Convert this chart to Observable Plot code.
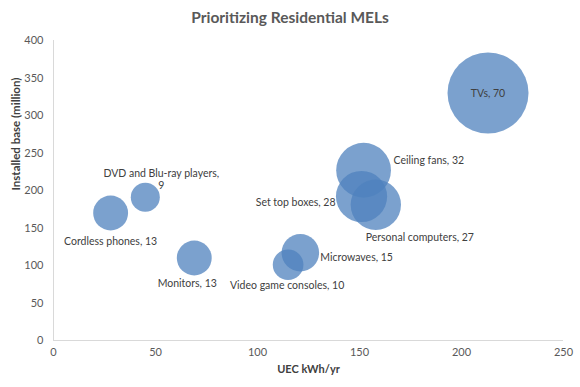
<!DOCTYPE html>
<html>
<head>
<meta charset="utf-8">
<script src="https://cdn.jsdelivr.net/npm/d3@7"></script>
<script src="https://cdn.jsdelivr.net/npm/@observablehq/plot@0.6"></script>
<style>
  body { margin: 0; background: #fff; }
  #wrap { width: 580px; height: 387px; position: relative; font-family: Lato, "Open Sans", sans-serif; }
  #title { position: absolute; left: 0; top: 0; width: 580px; height: 30px; line-height: 34px; text-align: center;
           font-size: 15.5px; font-weight: bold; color: #595959; }
  #chart { position: absolute; left: 0; top: 30px; }
</style>
</head>
<body>
<div id="wrap">
  <div id="title">Prioritizing Residential MELs</div>
  <div id="chart"></div>
</div>
<script>
// Data
const names = ["TVs", "Ceiling fans", "Set top boxes", "Personal computers", "Microwaves",
               "Video game consoles", "Monitors", "Cordless phones", "DVD and Blu-ray players"];
const uec = [213, 152, 151, 158, 121, 115, 69, 28, 45];          // kWh/yr
const installed = [330, 227, 192, 181, 117, 101, 110, 170, 191];  // million
const bubbleSize = [70, 32, 28, 27, 15, 10, 13, 13, 9];
const xTicks = [0, 50, 100, 150, 200, 250];
const yTicks = [0, 50, 100, 150, 200, 250, 300, 350, 400];
const xTitle = "UEC kWh/yr";
const yTitle = "Installed base (million)";

const rows = names.map((n, i) => ({name: n, x: uec[i], y: installed[i], size: bubbleSize[i]}));
const labelOf = d => d.name === "DVD and Blu-ray players" ? `${d.name},\n${d.size}` : `${d.name}, ${d.size}`;
const pick = n => rows.filter(d => d.name === n);

const textStyle = {x: "x", y: "y", text: labelOf, fill: "#404040", fontSize: 10.5, lineHeight: 1.15};

const chart = Plot.plot({
  width: 580,
  height: 357,
  marginTop: 10,
  marginBottom: 47,
  marginLeft: 53,
  marginRight: 17,
  style: {fontFamily: "Lato, 'Open Sans', sans-serif", fontSize: "11px", color: "#595959", background: "#fff"},
  x: {domain: [0, 250]},
  y: {domain: [0, 400]},
  r: {type: "sqrt", domain: [0, 70], range: [0, 40.5]},
  marks: [
    Plot.ruleX([0], {stroke: "#d9d9d9"}),
    Plot.ruleY([0], {stroke: "#d9d9d9"}),
    Plot.axisX({ticks: xTicks, tickSize: 0, tickPadding: 8, label: null, fill: "#595959"}),
    Plot.axisY({ticks: yTicks, tickSize: 0, tickPadding: 10, label: null, fill: "#595959"}),
    Plot.dot(rows, {x: "x", y: "y", r: "size", fill: "#4F81BD", fillOpacity: 0.75, stroke: null}),
    Plot.text(pick("TVs"), {...textStyle}),
    Plot.text(pick("Ceiling fans"), {...textStyle, textAnchor: "start", dx: 30, dy: -10}),
    Plot.text(pick("Set top boxes"), {...textStyle, textAnchor: "end", dx: -26, dy: 6}),
    Plot.text(pick("Personal computers"), {...textStyle, dx: 44, dy: 32}),
    Plot.text(pick("Microwaves"), {...textStyle, textAnchor: "start", dx: 20, dy: 4}),
    Plot.text(pick("Video game consoles"), {...textStyle, dx: -1, dy: 20}),
    Plot.text(pick("Monitors"), {...textStyle, dx: -7, dy: 25}),
    Plot.text(pick("Cordless phones"), {...textStyle, dx: 0, dy: 28}),
    Plot.text(pick("DVD and Blu-ray players"), {...textStyle, dx: 16, dy: -18}),
    Plot.text([xTitle], {frameAnchor: "bottom", dy: 32, fontWeight: "bold", fill: "#404040", fontSize: 11}),
    Plot.text([yTitle], {frameAnchor: "left", dx: -37, rotate: -90, fontWeight: "bold", fill: "#404040", fontSize: 11.5})
  ]
});
document.getElementById("chart").appendChild(chart);
</script>
</body>
</html>
